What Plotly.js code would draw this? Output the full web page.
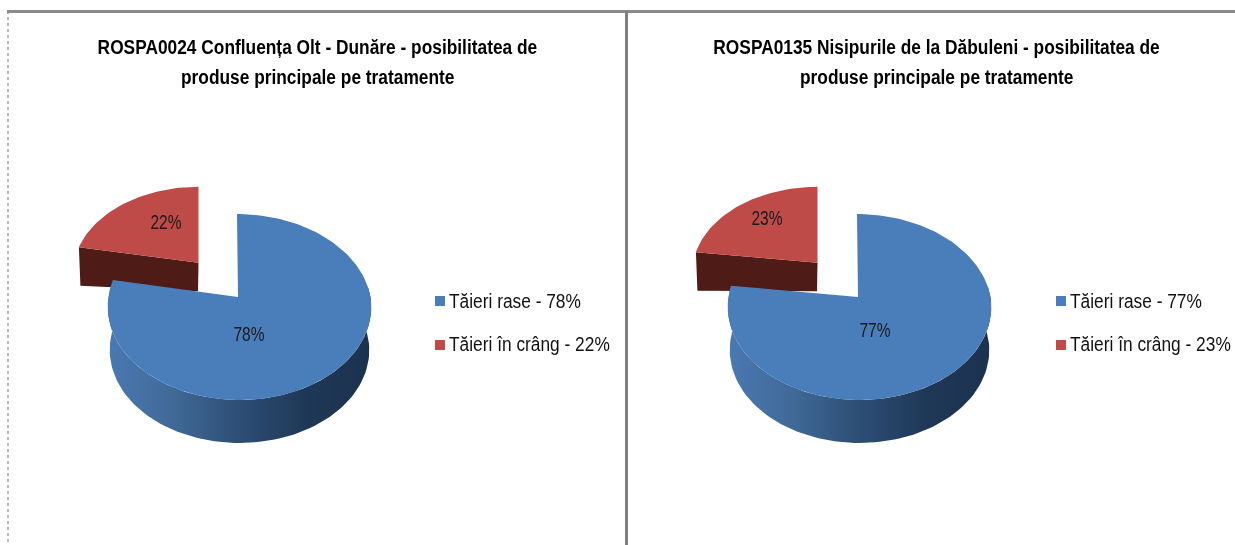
<!DOCTYPE html>
<html>
<head>
<meta charset="utf-8">
<script src="https://cdn.plot.ly/plotly-3.0.1.min.js"></script>
<style>html,body{margin:0;padding:0;background:#fff;overflow:hidden}#gd{width:1235px;height:545px;filter:blur(0.45px)}</style>
</head>
<body>
<div id="gd"></div>
<script>
// ---- data ----
const titlesLeft = ["ROSPA0024 Confluența Olt - Dunăre - posibilitatea de", "produse principale pe tratamente"];
const titlesRight = ["ROSPA0135 Nisipurile de la Dăbuleni - posibilitatea de", "produse principale pe tratamente"];
const categories = ["Tăieri rase", "Tăieri în crâng"];
const valuesLeft = [78, 22];
const valuesRight = [77, 23];

// ---- style ----
const BLUE = "#4a7ebb", RED = "#be4b48", RED_WALL = "#4e1b17";
const FONT = "'Liberation Sans',Arial,sans-serif";
const wallStops = [[0,"#4a79b2"],[0.25,"#406997"],[0.5,"#2d4e75"],[0.75,"#1f3857"],[1,"#1b324f"]];

// ---- 3D pie projection: a unit circle seen in perspective ----
const K = 0.1075;
function project(p, angleDeg, shrink) {
  const t = angleDeg * Math.PI / 180, u = Math.sin(t), v = Math.cos(t), d = 1 + K * v;
  const lean = p.lean ? (v > 0 ? -1 + 2.5 * (1 - v) : 1.5) : 0;
  return [p.ax + lean + p.bx * (shrink || 1) * u / d, p.ay - p.by * v / d];
}
function arc(p, a0, a1, dy, shrink) {
  const n = Math.max(2, Math.ceil(Math.abs(a1 - a0) / 2)), pts = [];
  for (let i = 0; i <= n; i++) {
    const q = project(p, a0 + (a1 - a0) * i / n, shrink);
    pts.push([q[0], q[1] + (dy || 0)]);
  }
  return pts;
}
function poly(pts, o) {
  return Object.assign({
    x: pts.map(q => q[0]), y: pts.map(q => q[1]), mode: "lines", fill: "toself",
    line: {width: 0}, hoverinfo: "skip", showlegend: false, type: "scatter"
  }, o);
}

const traces = [], annotations = [];
function panel(values, cfg) {
  const total = values[0] + values[1];
  const split = 360 * values[0] / total;
  const big = {ax: cfg.ax, lean: true, ay: 297, bx: 131, by: 91.9};
  const small = {ax: cfg.redAx, lean: false, ay: 262.7, bx: 124.2, by: 84};
  const depth = 43;

  // exploded slice: cut face, then top
  const sEnd = project(small, split);
  traces.push(poly([[small.ax, small.ay], sEnd, [sEnd[0] + 1.5, sEnd[1] + 38.5], [small.ax - 0.5, small.ay + 28.5]],
    {fillcolor: RED_WALL, name: categories[1] + " wall"}));
  traces.push(poly([[small.ax, small.ay]].concat(arc(small, split, 360)),
    {fillcolor: RED, name: categories[1]}));

  // main slice: rim with gradient, then top
  const rimTop = arc(big, 84, 276);
  const rimBottom = arc(big, 276, 84, depth, 0.985);
  traces.push(poly(rimTop.concat(rimBottom), {
    fillcolor: BLUE, name: categories[0] + " wall",
    fillgradient: {type: "horizontal", colorscale: wallStops}
  }));
  traces.push(poly([[big.ax, big.ay]].concat(arc(big, 0, split)),
    {fillcolor: BLUE, name: categories[0]}));

  // percentage labels
  traces.push({
    type: "scatter", mode: "text", hoverinfo: "skip", showlegend: false,
    x: cfg.pctX, y: cfg.pctY, text: values.map(v => v + "%"),
    textposition: "middle center", textfont: {family: FONT, size: 21, color: "#1a1a1a"}
  });

  // legend
  traces.push({
    type: "scatter", mode: "markers", hoverinfo: "skip", showlegend: false,
    x: [cfg.legX, cfg.legX], y: [301, 345],
    marker: {symbol: "square", size: 10, color: [BLUE, RED]}
  });
  values.forEach((v, i) => annotations.push({
    xref: "x", yref: "y", x: cfg.legX + 6.5, y: [300, 343][i], xanchor: "left", yanchor: "middle",
    text: categories[i] + " - " + v + "%", showarrow: false,
    font: {family: FONT, size: 21, color: "#111"}
  }));

  // title lines
  cfg.title.forEach((line, i) => annotations.push({
    xref: "x", yref: "y", x: cfg.titleX, y: [46, 76][i], xanchor: "center", yanchor: "middle",
    text: "<b>" + line + "</b>", showarrow: false,
    font: {family: FONT, size: 21, color: "#000"}
  }));
}

panel(valuesLeft, {ax: 238, redAx: 198.5, pctX: [249, 166], pctY: [336, 224], legX: 440, titleX: 317.5, title: titlesLeft});
panel(valuesRight, {ax: 858, redAx: 817.5, pctX: [875, 767], pctY: [332, 220], legX: 1061, titleX: 936.5, title: titlesRight});

const frame = [
  {type: "line", x0: 8, x1: 8, y0: 11, y1: 545, line: {color: "#b8b8b8", width: 2, dash: "dot"}},
  {type: "line", x0: 7, x1: 1235, y0: 11.5, y1: 11.5, line: {color: "#8a8a8a", width: 3}},
  {type: "line", x0: 626.5, x1: 626.5, y0: 11, y1: 545, line: {color: "#7f7f7f", width: 3}}
];

// The source's narrow typeface is not installed: condense the real text horizontally.
function condense() {
  const gd = document.getElementById("gd");
  gd.querySelectorAll(".annotation-text, .textpoint text").forEach(el => {
    const s = el.textContent.trim();
    let k = 0.825, pivot;
    const bb = el.getBBox();
    if (/%$/.test(s) && s.length < 5) { k = 0.74; pivot = bb.x + bb.width / 2; }
    else if (/%$/.test(s)) { k = 0.825; pivot = bb.x; }
    else { pivot = bb.x + bb.width / 2; }
    const prev = el.getAttribute("transform") || "";
    el.setAttribute("transform", prev + " translate(" + pivot + ",0) scale(" + k + ",1) translate(" + (-pivot) + ",0)");
  });
}

Plotly.newPlot("gd", traces, {
  width: 1235, height: 545, margin: {l: 0, r: 0, t: 0, b: 0},
  paper_bgcolor: "#fff", plot_bgcolor: "#fff", showlegend: false,
  xaxis: {range: [0, 1235], visible: false, fixedrange: true},
  yaxis: {range: [545, 0], visible: false, fixedrange: true},
  shapes: frame, annotations: annotations
}, {displayModeBar: false, staticPlot: true}).then(condense);
</script>
</body>
</html>
